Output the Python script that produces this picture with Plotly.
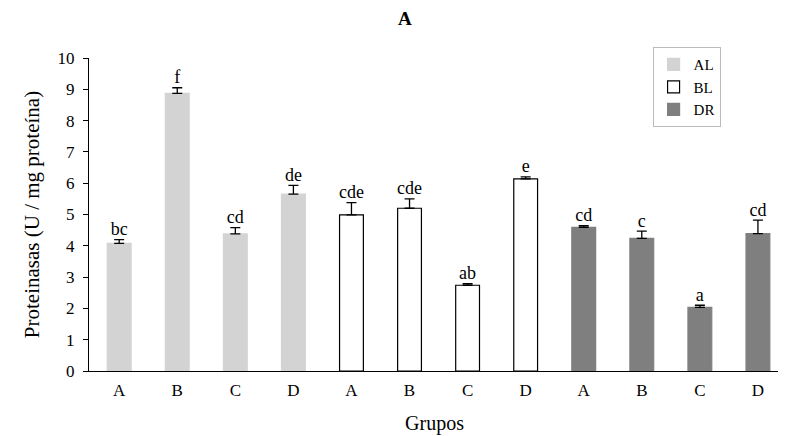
import plotly.graph_objects as go

groups = ["A", "B", "C", "D"]
series_names = ["AL", "BL", "DR"]
al_vals = [4.08, 8.87, 4.38, 5.65]
al_err = [0.12, 0.18, 0.20, 0.28]
al_lbl = ["bc", "f", "cd", "de"]
bl_vals = [4.99, 5.20, 2.74, 6.14]
bl_err = [0.39, 0.30, 0.05, 0.06]
bl_lbl = ["cde", "cde", "ab", "e"]
dr_vals = [4.59, 4.24, 2.03, 4.39]
dr_err = [0.05, 0.23, 0.07, 0.43]
dr_lbl = ["cd", "c", "a", "cd"]

fills = ["#d3d3d3", "#ffffff", "#7f7f7f"]
lines = ["#d3d3d3", "#000000", "#7f7f7f"]
FONT = "Liberation Serif, Times New Roman, serif"

fig = go.Figure()
data = [(al_vals, al_err, al_lbl), (bl_vals, bl_err, bl_lbl), (dr_vals, dr_err, dr_lbl)]
all_cats = []
for i, (name, (v, e, l)) in enumerate(zip(series_names, data)):
    cats = [f"{name} {g}" for g in groups]
    all_cats += cats
    fig.add_trace(go.Bar(
        x=cats, y=v, name=name, width=0.41,
        marker=dict(color=fills[i], line=dict(color=lines[i], width=1.2)),
        error_y=dict(type="data", array=e, arrayminus=[0] * len(e), symmetric=False,
                     color="#000000", thickness=1.3, width=5),
    ))
    fig.add_trace(go.Scatter(
        x=cats, y=[a + b for a, b in zip(v, e)], mode="text", text=l,
        textposition="top center", showlegend=False,
        textfont=dict(family=FONT, size=18, color="#000"), hoverinfo="skip",
    ))

# page body has an 8px margin; figure is sized to fill the rest of the 786x436 window
fig.update_layout(
    width=778, height=428,
    margin=dict(l=81, r=6, t=50, b=65, autoexpand=False),
    plot_bgcolor="#fff", paper_bgcolor="#fff",
    font=dict(family=FONT, color="#000"),
    title=dict(text="<b>A</b>", x=0.51, xanchor="center", y=0.975, yanchor="middle",
               font=dict(family=FONT, size=19)),
    showlegend=True,
    legend=dict(x=0.914, xanchor="right", y=1.035, yanchor="top",
                bordercolor="#bbbbbb", borderwidth=1, font=dict(family=FONT, size=15),
                tracegroupgap=0, itemwidth=30),
    bargap=0.3,
)
fig.update_xaxes(
    categoryorder="array", categoryarray=all_cats,
    tickvals=all_cats, ticktext=groups * 3, automargin=False,
    range=[-0.52, 11.38], showline=True, linecolor="#000", linewidth=1.2,
    ticks="", tickfont=dict(family=FONT, size=17), showgrid=False, ticklabelstandoff=3,
    title=dict(text="Grupos", font=dict(family=FONT, size=20), standoff=17),
)
fig.update_yaxes(
    range=[0, 10], tickvals=list(range(11)), showline=True, linecolor="#000", linewidth=1.2,
    ticks="outside", ticklen=5, tickcolor="#000", showgrid=False, zeroline=False,
    tickfont=dict(family=FONT, size=17), ticklabelstandoff=5, automargin=False,
    title=dict(text="Proteinasas (U / mg proteína)", font=dict(family=FONT, size=21), standoff=12),
)
fig.write_html("out.html")
